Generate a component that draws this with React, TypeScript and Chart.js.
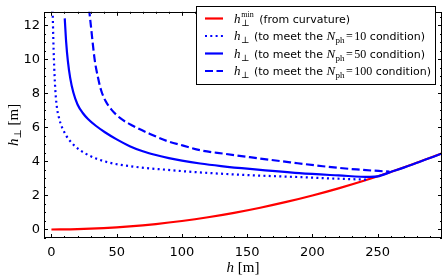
import React, { useEffect, useRef } from 'react';
import { Chart, registerables } from 'chart.js';

Chart.register(...registerables);

// ---- data ----
const X_TICKS = [0, 50, 100, 150, 200, 250];
const Y_TICKS = [0, 2, 4, 6, 8, 10, 12];
const X_MIN = -5.7;
const X_MAX = 299.3;
const Y_MIN = -0.5;
const Y_MAX = 12.8;
const X_MINOR_STEP = 10;
const Y_MINOR_STEP = 0.5;

// h_perp^min (from curvature)
const H_RED = [0, 20, 40, 60, 80, 100, 120, 140, 160, 180, 200, 220, 240, 260, 280, 300];
const V_RED = [0, 0.02, 0.08, 0.18, 0.32, 0.5, 0.72, 0.98, 1.28, 1.62, 2.0, 2.42, 2.88, 3.38, 3.92, 4.5];

// N_ph = 10 (dotted)
const H_N10 = [0.7, 1.0, 1.4, 1.9, 2.9, 4, 6, 10, 16.7, 26, 41, 62.7, 88, 111, 150, 190, 215, 242];
const V_N10 = [13.5, 12.6, 11.3, 10.0, 8.3, 7.3, 6.5, 5.7, 5.0, 4.47, 4.0, 3.7, 3.51, 3.37, 3.2, 3.08, 3.0, 2.93];

// N_ph = 50 (solid)
const H_N50 = [10.2, 11.3, 12.6, 14.4, 16.8, 20, 24, 28, 34, 41, 50, 60, 70, 80, 90, 100, 114, 130, 152, 190, 220, 244, 250, 260, 270, 280, 290, 300];
const V_N50 = [12.41, 11.0, 9.9, 8.9, 8.05, 7.35, 6.85, 6.5, 6.1, 5.72, 5.3, 4.9, 4.6, 4.38, 4.2, 4.05, 3.88, 3.73, 3.56, 3.31, 3.18, 3.09, 3.12, 3.38, 3.64, 3.92, 4.2, 4.5];

// N_ph = 100 (dashed)
const H_N100 = [28.8, 30.2, 33.1, 35.5, 38, 41.5, 46, 52.5, 62.7, 75.5, 88.3, 101, 114, 133, 152, 183, 208, 234, 259];
const V_N100 = [13.0, 12.0, 10.0, 9.0, 8.2, 7.55, 7.05, 6.56, 6.09, 5.62, 5.21, 4.93, 4.66, 4.45, 4.25, 3.95, 3.72, 3.53, 3.4];

const NPH = ['10', '50', '100'];

const RED = '#ff0000';
const BLUE = '#0000ff';
const SANS = '"DejaVu Sans", sans-serif';
const SERIF = '"Liberation Serif", "DejaVu Serif", serif';

const pts = (xs: number[], ys: number[]) => xs.map((x, i) => ({ x, y: ys[i] }));

type Run = { t: string; font: string; dy?: number; gap?: number };

const drawRuns = (ctx: CanvasRenderingContext2D, x: number, y: number, runs: Run[]) => {
  let cx = x;
  for (const r of runs) {
    ctx.font = r.font;
    ctx.fillText(r.t, cx, y + (r.dy || 0));
    cx += ctx.measureText(r.t).width + (r.gap || 0);
  }
  return cx;
};

const runsWidth = (ctx: CanvasRenderingContext2D, runs: Run[]) => {
  let w = 0;
  for (const r of runs) {
    ctx.font = r.font;
    w += ctx.measureText(r.t).width + (r.gap || 0);
  }
  return w;
};

const framePlugin = {
  id: 'frame',
  afterDatasetsDraw(chart: any) {
    const { ctx, chartArea, scales } = chart;
    const { left, right, top, bottom } = chartArea;
    const x = scales.x;
    const y = scales.y;
    ctx.save();
    ctx.strokeStyle = '#000';
    ctx.lineWidth = 1;
    ctx.beginPath();
    const xStart = Math.ceil(X_MIN / X_MINOR_STEP) * X_MINOR_STEP;
    for (let v = xStart; v <= X_MAX; v += X_MINOR_STEP) {
      const px = Math.round(x.getPixelForValue(v)) + 0.5;
      const len = X_TICKS.includes(v) ? 4 : 2;
      ctx.moveTo(px, bottom);
      ctx.lineTo(px, bottom - len);
      ctx.moveTo(px, top);
      ctx.lineTo(px, top + len);
    }
    const yStart = Math.ceil(Y_MIN / Y_MINOR_STEP) * Y_MINOR_STEP;
    for (let v = yStart; v <= Y_MAX + 1e-9; v += Y_MINOR_STEP) {
      const py = Math.round(y.getPixelForValue(v)) + 0.5;
      const len = Y_TICKS.includes(Math.round(v * 100) / 100) ? 4 : 2;
      ctx.moveTo(left, py);
      ctx.lineTo(left + len, py);
      ctx.moveTo(right, py);
      ctx.lineTo(right - len, py);
    }
    ctx.stroke();
    ctx.strokeRect(Math.round(left) + 0.5, Math.round(top) + 0.5, Math.round(right - left) - 1, Math.round(bottom - top) - 1);
    ctx.restore();
  },
  afterDraw(chart: any) {
    const { ctx, chartArea } = chart;
    ctx.save();
    ctx.fillStyle = '#000';
    ctx.textBaseline = 'alphabetic';
    ctx.textAlign = 'left';

    // x-axis title
    const xt: Run[] = [
      { t: 'h', font: `italic 15px ${SERIF}` },
      { t: ' [m]', font: `15px ${SERIF}` },
    ];
    const cxx = (chartArea.left + chartArea.right) / 2;
    drawRuns(ctx, cxx - runsWidth(ctx, xt) / 2, 272, xt);

    // y-axis title (rotated)
    const yt: Run[] = [
      { t: 'h', font: `italic 15px ${SERIF}` },
      { t: '\u22A5', font: `10px ${SERIF}`, dy: 3 },
      { t: ' [m]', font: `15px ${SERIF}` },
    ];
    ctx.save();
    ctx.translate(13, (chartArea.top + chartArea.bottom) / 2);
    ctx.rotate(-Math.PI / 2);
    drawRuns(ctx, -runsWidth(ctx, yt) / 2, 5, yt);
    ctx.restore();

    // legend
    const bx = 196.5, by = 6.5, bw = 239, bh = 78;
    ctx.fillStyle = '#fff';
    ctx.fillRect(bx, by, bw, bh);
    ctx.strokeStyle = '#000';
    ctx.lineWidth = 1;
    ctx.strokeRect(bx, by, bw, bh);

    const rowsY = [18.5, 36, 53.5, 71];
    const styles = [
      { color: RED, dash: [] as number[] },
      { color: BLUE, dash: [2, 3.3] },
      { color: BLUE, dash: [] as number[] },
      { color: BLUE, dash: [8, 3.5] },
    ];
    styles.forEach((s, i) => {
      ctx.beginPath();
      ctx.strokeStyle = s.color;
      ctx.lineWidth = 2.2;
      ctx.setLineDash(s.dash);
      ctx.moveTo(205, rowsY[i]);
      ctx.lineTo(223, rowsY[i]);
      ctx.stroke();
    });
    ctx.setLineDash([]);
    ctx.fillStyle = '#000';

    const tx = 234;
    {
      const yb = rowsY[0] + 4;
      ctx.font = `italic 13px ${SERIF}`;
      ctx.fillText('h', tx, yb);
      const hw = ctx.measureText('h').width + 0.8;
      ctx.font = `8px ${SERIF}`;
      ctx.fillText('min', tx + hw, yb - 6);
      const mw = ctx.measureText('min').width;
      ctx.font = `9px ${SERIF}`;
      ctx.fillText('\u22A5', tx + hw, yb + 3);
      const pw = ctx.measureText('\u22A5').width;
      ctx.font = `11px ${SANS}`;
      ctx.fillText(' (from curvature)', tx + hw + Math.max(mw, pw) + 2, yb);
    }
    NPH.forEach((n, i) => {
      const yb = rowsY[i + 1] + 4;
      const runs: Run[] = [
        { t: 'h', font: `italic 13px ${SERIF}`, gap: 0.5 },
        { t: '\u22A5', font: `9px ${SERIF}`, dy: 3, gap: 1 },
        { t: ' (to meet the ', font: `11px ${SANS}` },
        { t: 'N', font: `italic 13px ${SERIF}`, gap: 0.5 },
        { t: 'ph', font: `9px ${SERIF}`, dy: 3, gap: 1.5 },
        { t: '=', font: `12px ${SERIF}`, gap: 1.5 },
        { t: n, font: `12px ${SERIF}` },
        { t: ' condition)', font: `11px ${SANS}` },
      ];
      drawRuns(ctx, tx, yb, runs);
    });
    ctx.restore();
  },
};

export default function App() {
  const ref = useRef<HTMLCanvasElement | null>(null);

  useEffect(() => {
    document.body.style.margin = '0';
    const canvas = ref.current;
    if (!canvas) return;
    const common = { showLine: true, pointRadius: 0, borderWidth: 2.2, cubicInterpolationMode: 'monotone' as const, clip: 0 };
    const chart = new Chart(canvas, {
      type: 'scatter',
      data: {
        datasets: [
          { ...common, label: 'hmin', data: pts(H_RED, V_RED), borderColor: RED, order: 4 },
          { ...common, label: 'N10', data: pts(H_N10, V_N10), borderColor: BLUE, borderDash: [2, 3.3], order: 3 },
          { ...common, label: 'N50', data: pts(H_N50, V_N50), borderColor: BLUE, order: 1 },
          { ...common, label: 'N100', data: pts(H_N100, V_N100), borderColor: BLUE, borderDash: [8, 3.5], order: 2 },
        ] as any,
      },
      options: {
        animation: false,
        responsive: false,
        devicePixelRatio: 1,
        events: [],
        layout: { padding: { top: 3, right: 4, left: 0, bottom: 0 } },
        plugins: { legend: { display: false }, tooltip: { enabled: false } },
        scales: {
          x: {
            type: 'linear',
            min: X_MIN,
            max: X_MAX,
            grid: { display: false, drawTicks: false },
            border: { display: false },
            ticks: { padding: 7, color: '#000', font: { family: SANS, size: 13 }, maxRotation: 0, autoSkip: false },
            afterBuildTicks: (s: any) => { s.ticks = X_TICKS.map((v) => ({ value: v })); },
            afterFit: (s: any) => { s.height = 38; },
          },
          y: {
            type: 'linear',
            min: Y_MIN,
            max: Y_MAX,
            grid: { display: false, drawTicks: false },
            border: { display: false },
            ticks: { padding: 4, color: '#000', font: { family: SANS, size: 13 }, autoSkip: false },
            afterBuildTicks: (s: any) => { s.ticks = Y_TICKS.map((v) => ({ value: v })); },
            afterFit: (s: any) => { s.width = 44; },
          },
        },
      } as any,
      plugins: [framePlugin],
    });
    return () => chart.destroy();
  }, []);

  return (
    <div style={{ width: 446, height: 276 }}>
      <canvas ref={ref} width={446} height={276} style={{ display: 'block', width: 446, height: 276 }} />
    </div>
  );
}
